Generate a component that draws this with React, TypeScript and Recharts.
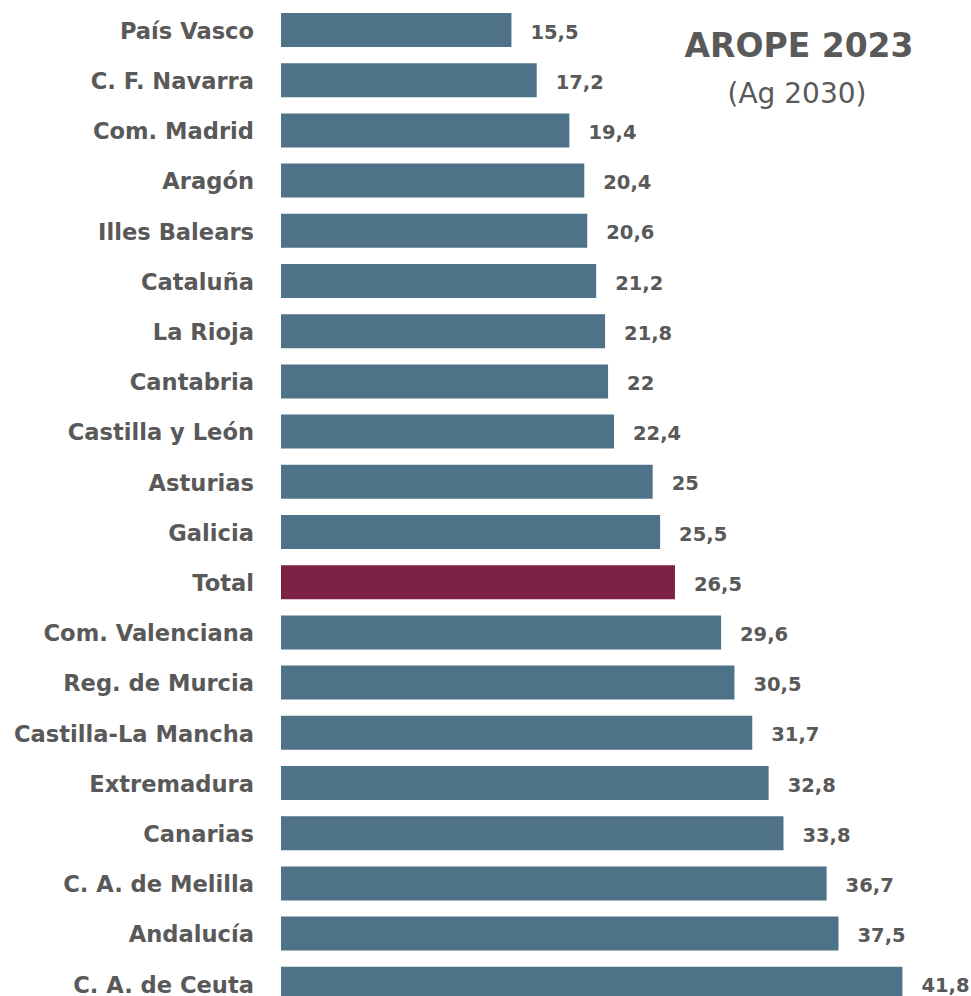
import React from 'react';
import { BarChart, Bar, XAxis, YAxis, LabelList, Cell } from 'recharts';

const regions = [
  'País Vasco', 'C. F. Navarra', 'Com. Madrid', 'Aragón', 'Illes Balears', 'Cataluña', 'La Rioja',
  'Cantabria', 'Castilla y León', 'Asturias', 'Galicia', 'Total', 'Com. Valenciana', 'Reg. de Murcia',
  'Castilla-La Mancha', 'Extremadura', 'Canarias', 'C. A. de Melilla', 'Andalucía', 'C. A. de Ceuta',
];
const arope = [15.5, 17.2, 19.4, 20.4, 20.6, 21.2, 21.8, 22, 22.4, 25, 25.5, 26.5, 29.6, 30.5, 31.7, 32.8, 33.8, 36.7, 37.5, 41.8];
const highlight = 'Total';

const data = regions.map((name, i) => ({ name, value: arope[i] }));

const BLUE = '#4e7389';
const WINE = '#7d2245';
const TEXT = '#595959';
const FONT = '"DejaVu Sans", sans-serif';

const RegionTick = (props: any) => {
  const { x, y, payload } = props;
  return (
    <text x={x - 27} y={y} dy={8.6} textAnchor="end" fill={TEXT} fontFamily={FONT} fontWeight="bold" fontSize={22.6}>
      {payload.value}
    </text>
  );
};

const ValueLabel = (props: any) => {
  const { x, y, width, height, value } = props;
  return (
    <text x={x + width + 19} y={y + height / 2} dy={8.6} fill={TEXT} fontFamily={FONT} fontWeight="bold" fontSize={19.5}>
      {String(value).replace('.', ',')}
    </text>
  );
};

export default function App() {
  return (
    <div style={{ position: 'absolute', left: 0, top: 0, width: 971, height: 996, overflow: 'hidden', background: '#fff' }}>
      <BarChart
        width={971}
        height={1009}
        data={data}
        layout="vertical"
        margin={{ top: 5, right: 21, bottom: 0, left: 0 }}
      >
        <XAxis type="number" domain={[0, 45]} hide />
        <YAxis
          type="category"
          dataKey="name"
          width={281}
          axisLine={false}
          tickLine={false}
          tickSize={0}
          tickMargin={0}
          interval={0}
          tick={<RegionTick />}
        />
        <Bar dataKey="value" barSize={34} fill={BLUE} isAnimationActive={false}>
          {data.map((d, i) => (
            <Cell key={`c-${i}`} fill={d.name === highlight ? WINE : BLUE} />
          ))}
          <LabelList dataKey="value" content={<ValueLabel />} />
        </Bar>
      </BarChart>
      <svg width={971} height={130} style={{ position: 'absolute', left: 0, top: 0 }}>
        <text x={799} y={57.3} textAnchor="middle" fill={TEXT} fontFamily={FONT} fontWeight="bold" fontSize={33}>
          AROPE 2023
        </text>
        <text x={797} y={103} textAnchor="middle" fill={TEXT} fontFamily={FONT} fontSize={28}>
          (Ag 2030)
        </text>
      </svg>
    </div>
  );
}
